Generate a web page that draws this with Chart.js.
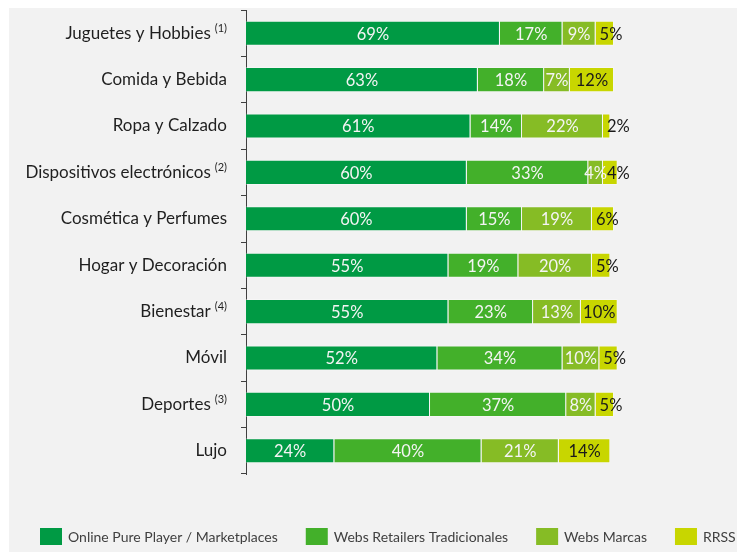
<!DOCTYPE html>
<html><head><meta charset="utf-8">
<script src="https://cdn.jsdelivr.net/npm/chart.js@4"></script>
<style>
html,body{margin:0;padding:0;background:#fff;}
#wrap{position:absolute;left:9px;top:8px;width:728px;height:544px;background:#f2f2f2;}
canvas{display:block;}
</style></head><body>
<div id="wrap"><canvas id="c" width="728" height="544"></canvas></div>
<script>
const categories = ['Juguetes y Hobbies','Comida y Bebida','Ropa y Calzado','Dispositivos electrónicos','Cosmética y Perfumes','Hogar y Decoración','Bienestar','Móvil','Deportes','Lujo'];
const notes = ['(1)','','','(2)','','','(4)','','(3)',''];
const seriesNames = ['Online Pure Player / Marketplaces','Webs Retailers Tradicionales','Webs Marcas','RRSS'];
const onlinePure = [69,63,61,60,60,55,55,52,50,24];
const websRetailers = [17,18,14,33,15,19,23,34,37,40];
const websMarcas = [9,7,22,4,19,20,13,10,8,21];
const rrss = [5,12,2,4,6,5,10,5,5,14];
const seriesValues = [onlinePure, websRetailers, websMarcas, rrss];
const colors = ['#009a44','#43b02a','#86bc25','#c8d600'];
const labelColors = ['#f4f4f4','#f4f4f4','#f4f4f4','#1a1a1a'];
const FONT = 'Lato, "Open Sans", sans-serif';

const catLabels = {
  id:'catLabels',
  afterDraw(chart){
    const ctx = chart.ctx, y = chart.scales.y;
    ctx.save();
    ctx.fillStyle = '#1f1f1f';
    ctx.textBaseline = 'middle';
    const right = y.right - 19;
    categories.forEach((c,i)=>{
      const py = y.getPixelForValue(i);
      let x = right;
      if (notes[i]) {
        ctx.font = '11px ' + FONT;
        ctx.textAlign = 'right';
        ctx.fillText(notes[i], x, py - 5);
        x -= ctx.measureText(notes[i]).width + 4;
      }
      ctx.font = '17px ' + FONT;
      ctx.textAlign = 'right';
      ctx.fillText(c, x, py);
    });
    ctx.restore();
  }
};

const dataLabels = {
  id:'dataLabels',
  afterDatasetsDraw(chart){
    const ctx = chart.ctx;
    ctx.save();
    ctx.font = '16.5px ' + FONT;
    ctx.textBaseline = 'middle';
    const last = chart.data.datasets.length - 1;
    chart.data.datasets.forEach((ds,di)=>{
      const meta = chart.getDatasetMeta(di);
      meta.data.forEach((el,i)=>{
        const p = el.getProps(['x','y','base'], true);
        const txt = ds.data[i] + '%';
        const w = ctx.measureText(txt).width;
        const segW = Math.abs(p.x - p.base);
        ctx.fillStyle = labelColors[di];
        if (di === last && w > segW - 2) {
          ctx.textAlign = 'left';
          ctx.fillText(txt, Math.min(p.base, p.x) + 4, p.y + 1);
        } else {
          ctx.textAlign = 'center';
          ctx.fillText(txt, (p.x + p.base)/2, p.y + 1);
        }
      });
    });
    ctx.restore();
  }
};

const customLegend = {
  id:'customLegend',
  afterDraw(chart){
    const ctx = chart.ctx;
    ctx.save();
    ctx.font = '14px ' + FONT;
    ctx.textBaseline = 'middle';
    ctx.textAlign = 'left';
    let x = 31;
    const top = 520, bh = 17, bw = 22;
    chart.data.datasets.forEach((ds,di)=>{
      ctx.fillStyle = colors[di];
      ctx.fillRect(x, top, bw, bh);
      ctx.fillStyle = '#404040';
      ctx.fillText(ds.label, x + bw + 6, top + bh/2 + 1);
      x += bw + 6 + ctx.measureText(ds.label).width + 28;
    });
    ctx.restore();
  }
};

new Chart(document.getElementById('c'), {
  type:'bar',
  data:{
    labels: categories,
    datasets: seriesNames.map((n,i)=>({
      label:n, data:seriesValues[i], backgroundColor:colors[i],
      borderColor:'rgba(255,255,255,0.35)', borderWidth:1,
      barPercentage:0.54, categoryPercentage:1
    }))
  },
  options:{
    responsive:false, animation:false, indexAxis:'y',
    layout:{padding:{top:2,bottom:78,left:0,right:10}},
    plugins:{legend:{display:false}, tooltip:{enabled:false}},
    scales:{
      x:{stacked:true, display:false, min:0, max:130.7},
      y:{stacked:true,
         grid:{display:true, drawOnChartArea:false, drawTicks:true, tickLength:5, color:'#404040', offset:true},
         border:{display:true, color:'#404040', width:1},
         ticks:{display:false},
         afterFit(s){ s.width = 237; }
      }
    }
  },
  plugins:[catLabels, dataLabels, customLegend]
});
</script>
</body></html>
